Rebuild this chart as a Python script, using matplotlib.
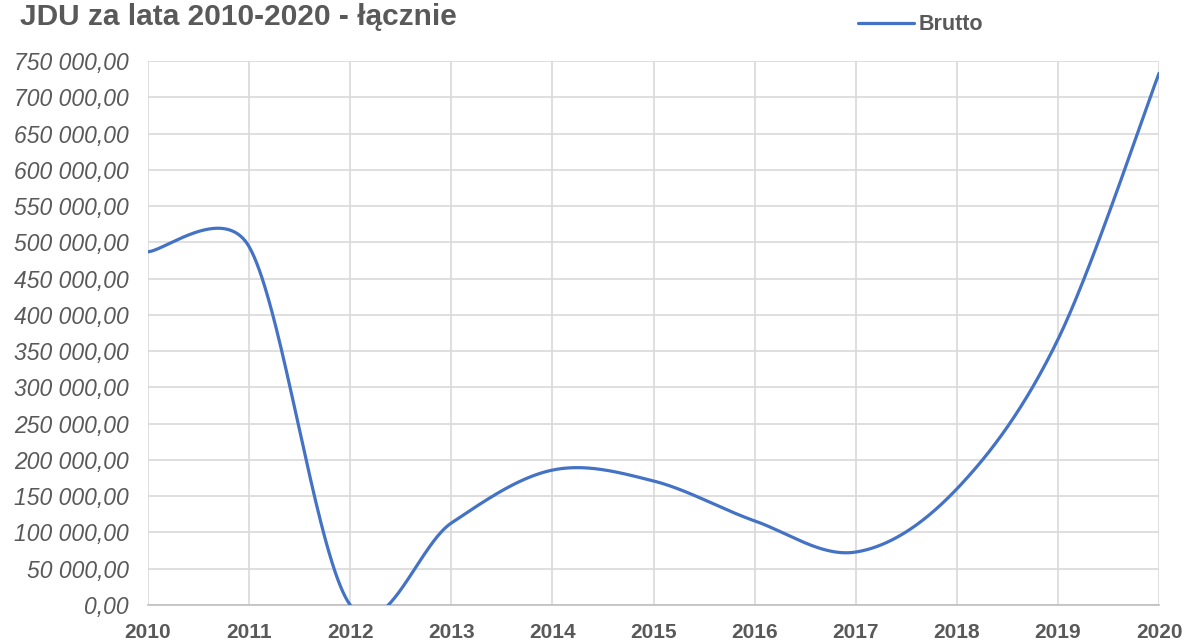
import numpy as np
import matplotlib
matplotlib.use("Agg")
import matplotlib.pyplot as plt
from matplotlib.ticker import FuncFormatter

years = [2010, 2011, 2012, 2013, 2014, 2015, 2016, 2017, 2018, 2019, 2020]
brutto = [487000, 494000, 0, 113000, 186000, 171000, 116000, 73000, 160000, 366000, 733000]
y_ticks = list(range(0, 750001, 50000))

plt.rcParams['font.family'] = ['Liberation Sans', 'DejaVu Sans']
GRAY = '#595959'
BLUE = '#4472c4'


def excel_smooth(ax, x, y, n=80):
    # Excel-like smoothed line: bezier segments, control arms limited in screen space
    fig.canvas.draw()
    pts = ax.transData.transform(np.column_stack([x, y]))
    P = np.vstack([pts[0], pts, pts[-1]])
    t = np.linspace(0, 1, n)[:, None]
    out = []
    for i in range(1, len(P) - 2):
        p0, p1, p2, p3 = P[i - 1], P[i], P[i + 1], P[i + 2]
        d02 = np.hypot(*(p2 - p0))
        d12 = np.hypot(*(p2 - p1))
        d13 = np.hypot(*(p3 - p1))
        f0 = 1 / 6 if d02 / 6 < d12 / 2 else d12 / d02 / 2
        f3 = 1 / 6 if d13 / 6 < d12 / 2 else d12 / d13 / 2
        c1 = p1 + (p2 - p0) * f0
        c2 = p2 - (p3 - p1) * f3
        b = ((1 - t) ** 3) * p1 + 3 * (1 - t) ** 2 * t * c1 + 3 * (1 - t) * t ** 2 * c2 + t ** 3 * p2
        out.append(b)
    out = np.vstack(out)
    data = ax.transData.inverted().transform(out)
    return data[:, 0], data[:, 1]


fig = plt.figure(figsize=(11.87, 6.44), dpi=100)
ax = fig.add_axes([148 / 1187, 1 - 605 / 644, (1159 - 148) / 1187, (605 - 61) / 644])

ax.set_xlim(2010, 2020)
ax.set_ylim(0, 750000)
ax.set_xticks(years)
ax.set_yticks(y_ticks)

sx, sy = excel_smooth(ax, years, brutto)
ax.plot(sx, sy, color=BLUE, lw=2.3, solid_capstyle='round', label='Brutto', zorder=3)

ax.yaxis.set_major_formatter(FuncFormatter(lambda v, p: f"{v:,.2f}".replace(',', ' ').replace('.', ',')))
ax.grid(True, color='#d9d9d9', lw=1.2)
ax.set_axisbelow(True)
for s in ['top', 'right', 'left']:
    ax.spines[s].set_visible(False)
ax.spines['bottom'].set_color('#bfbfbf')
ax.spines['bottom'].set_linewidth(1.2)
ax.tick_params(length=0)
ax.tick_params(axis='y', pad=14, labelsize=16.5, labelcolor=GRAY)
ax.tick_params(axis='x', pad=13, labelsize=15, labelcolor=GRAY)
for lab in ax.get_yticklabels():
    lab.set_fontstyle('italic')
for lab in ax.get_xticklabels():
    lab.set_fontweight('bold')

fig.text(20 / 1187, 1 - 17 / 644, 'JDU za lata 2010-2020 - łącznie', fontsize=21.5,
         fontweight='bold', color=GRAY, va='center', ha='left')

fig.legend(loc='center left', bbox_to_anchor=(858 / 1187, 1 - 25 / 644), frameon=False,
           handlelength=2.6, handletextpad=0.2, borderpad=0, borderaxespad=0,
           prop={'weight': 'bold', 'size': 15.5}, labelcolor=GRAY)

fig.savefig('out.png', dpi=100)
